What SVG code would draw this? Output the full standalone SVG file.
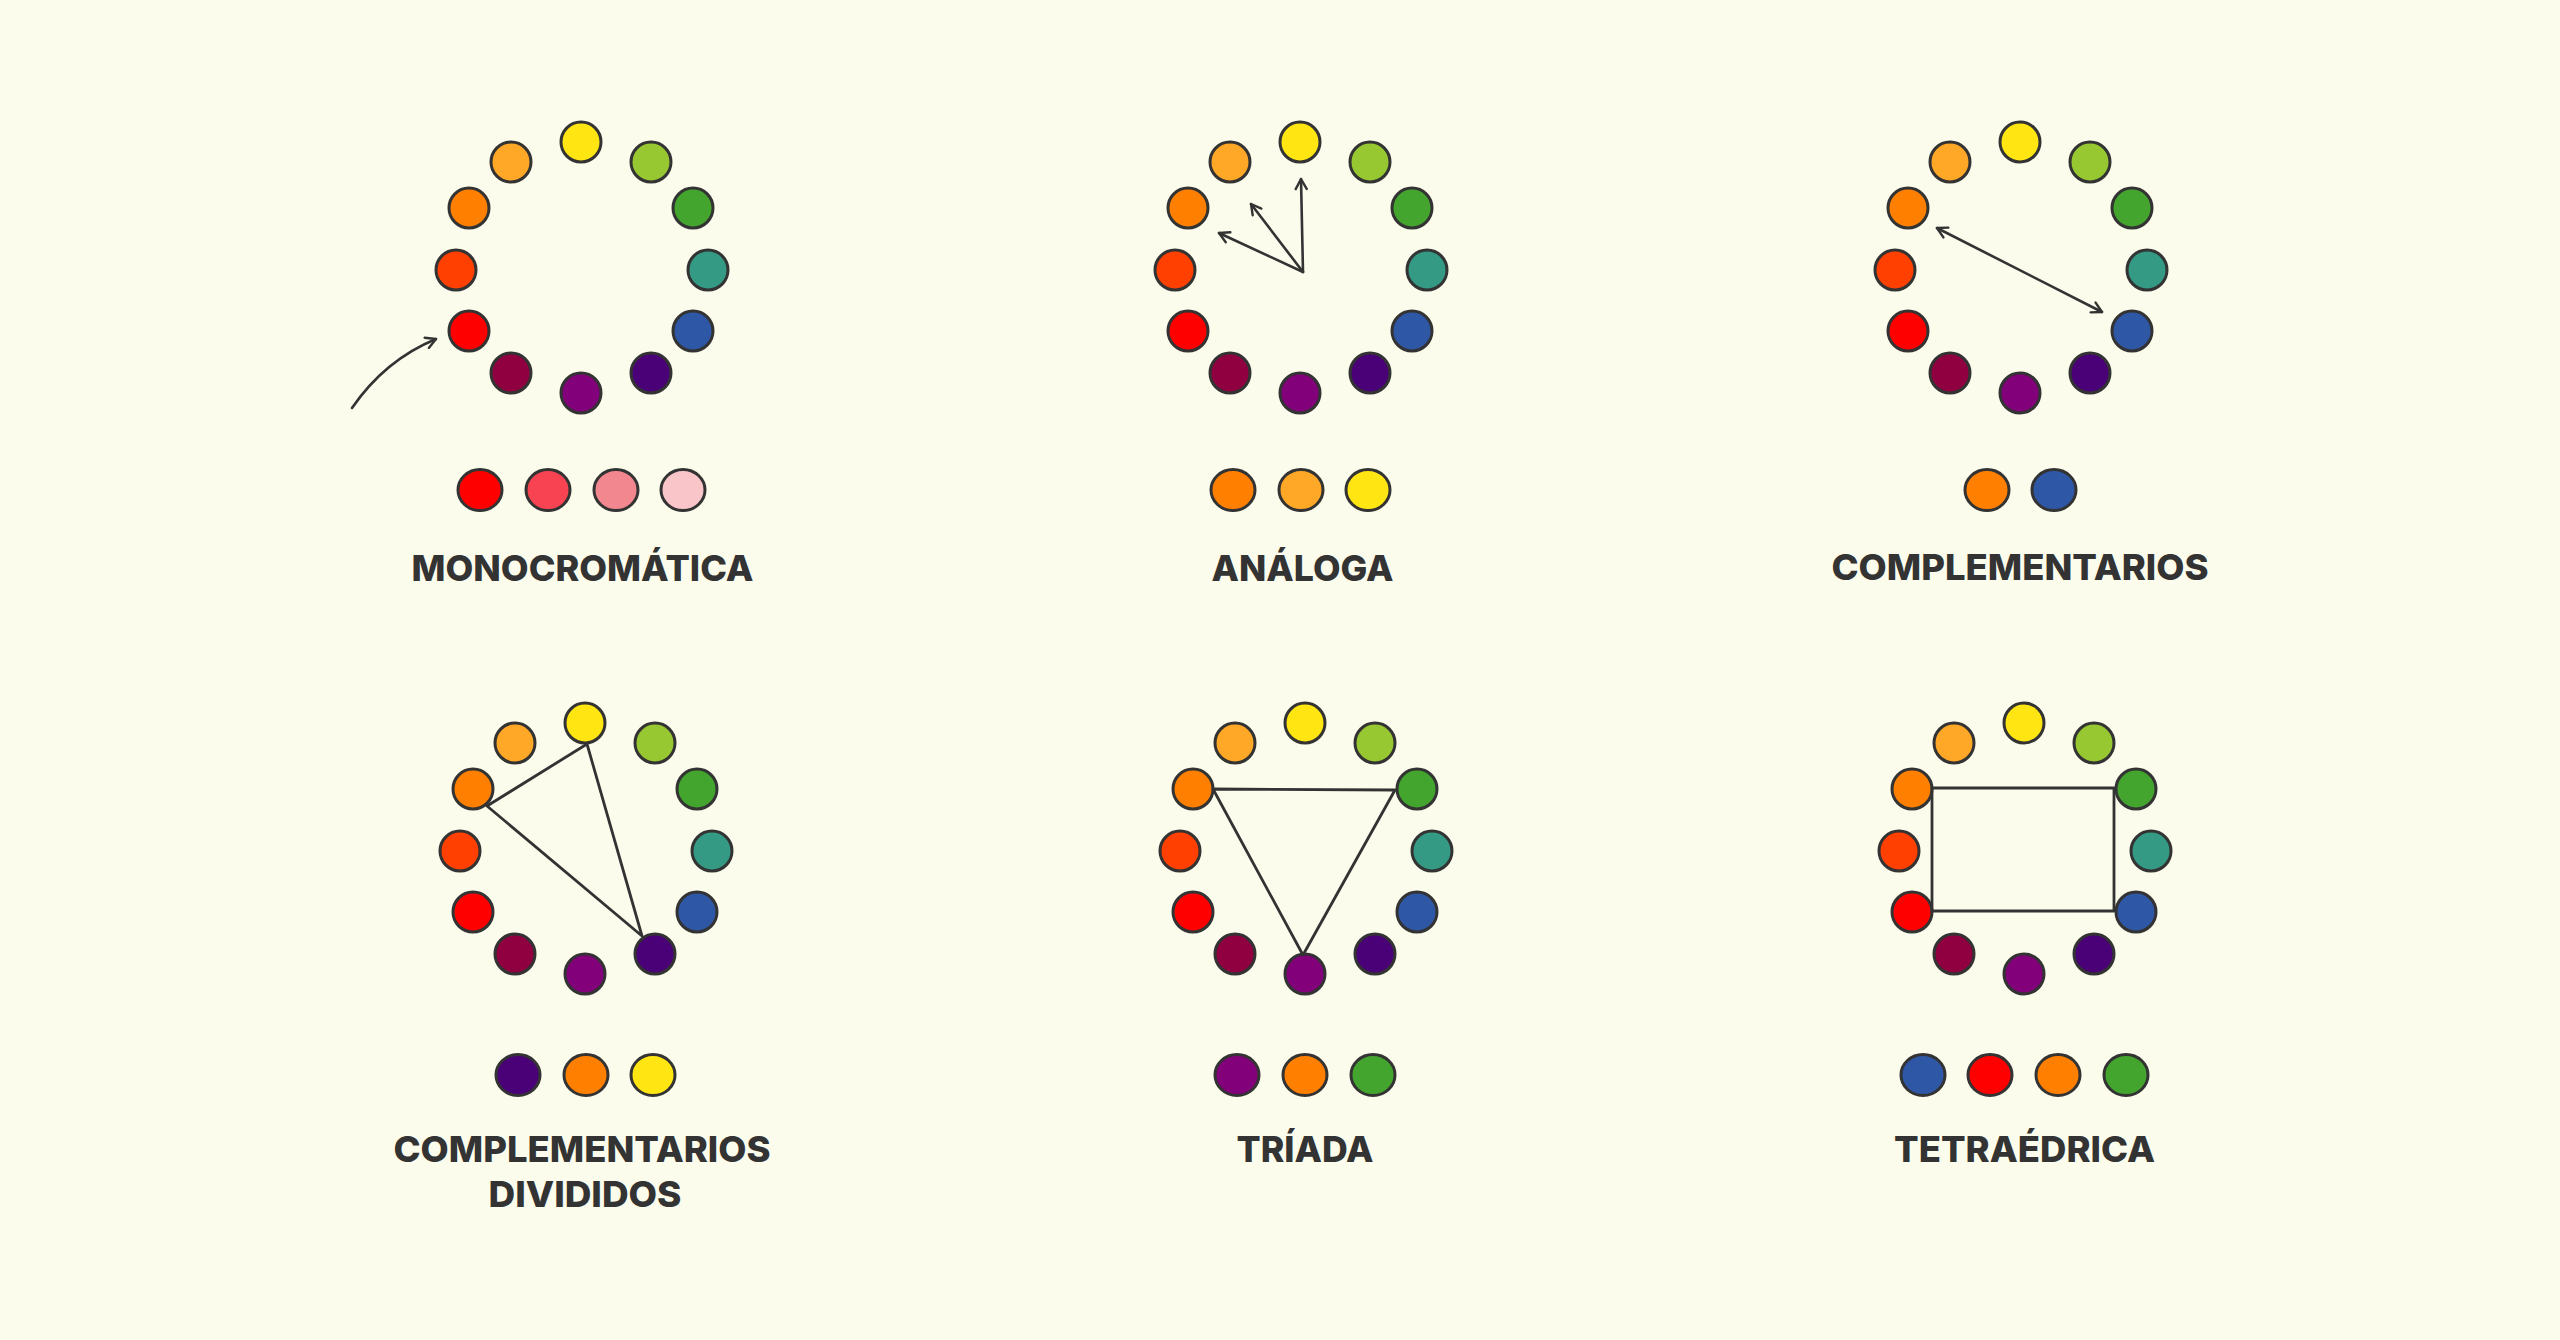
<svg xmlns="http://www.w3.org/2000/svg" xmlns:xlink="http://www.w3.org/1999/xlink" width="2560" height="1340" viewBox="0 0 2560 1340">
<style>
.d{stroke:#333;stroke-width:3}
.sw{stroke:#333;stroke-width:3}
.lbl{font-family:Inter,Lato,"Open Sans","Liberation Sans",sans-serif;font-weight:800;font-size:36px;fill:#333;text-anchor:middle}
.ln{fill:none;stroke:#333;stroke-width:2.8;stroke-linecap:round;stroke-linejoin:round}
.ar{fill:none;stroke:#333;stroke-width:2.6;stroke-linecap:round}
</style>
<defs>
<marker id="ah" viewBox="0 0 14 14" refX="12" refY="7" markerWidth="14" markerHeight="14" markerUnits="userSpaceOnUse" orient="auto-start-reverse">
<path d="M2,1.5 L12,7 L2,12.5" fill="none" stroke="#333" stroke-width="2.4" stroke-linecap="round" stroke-linejoin="round"/>
</marker>
<g id="wheel">
<circle class="d" cx="0" cy="-126" r="20" fill="#FFE512"/>
<circle class="d" cx="70" cy="-106" r="20" fill="#98C831"/>
<circle class="d" cx="112" cy="-60" r="20" fill="#43A52E"/>
<circle class="d" cx="127" cy="2" r="20" fill="#359A84"/>
<circle class="d" cx="112" cy="63" r="20" fill="#2E57A5"/>
<circle class="d" cx="70" cy="105" r="20" fill="#4A0077"/>
<circle class="d" cx="0" cy="125" r="20" fill="#820079"/>
<circle class="d" cx="-70" cy="105" r="20" fill="#900040"/>
<circle class="d" cx="-112" cy="63" r="20" fill="#FF0000"/>
<circle class="d" cx="-125" cy="2" r="20" fill="#FF4000"/>
<circle class="d" cx="-112" cy="-60" r="20" fill="#FF8000"/>
<circle class="d" cx="-70" cy="-106" r="20" fill="#FFA726"/>
</g>
</defs>
<rect width="2560" height="1340" fill="#FBFCEC"/>

<g id="monocromatica">
<use xlink:href="#wheel" href="#wheel" x="581" y="268"/>
<ellipse class="sw" cx="480" cy="490" rx="22" ry="20.5" fill="#FF0000"/>
<ellipse class="sw" cx="548" cy="490" rx="22" ry="20.5" fill="#F84452"/>
<ellipse class="sw" cx="616" cy="490" rx="22" ry="20.5" fill="#F2878F"/>
<ellipse class="sw" cx="683" cy="490" rx="22" ry="20.5" fill="#F9C5C8"/>
<text class="lbl" x="582.5" y="581" textLength="342" lengthAdjust="spacingAndGlyphs">MONOCROMÁTICA</text>
</g>

<g id="analoga">
<use xlink:href="#wheel" href="#wheel" x="1300" y="268"/>
<ellipse class="sw" cx="1233" cy="490" rx="22" ry="20.5" fill="#FF8000"/>
<ellipse class="sw" cx="1301" cy="490" rx="22" ry="20.5" fill="#FFA726"/>
<ellipse class="sw" cx="1368" cy="490" rx="22" ry="20.5" fill="#FFE512"/>
<text class="lbl" x="1302.5" y="581" textLength="182" lengthAdjust="spacingAndGlyphs">ANÁLOGA</text>
</g>

<g id="complementarios">
<use xlink:href="#wheel" href="#wheel" x="2020" y="268"/>
<ellipse class="sw" cx="1987" cy="490" rx="22" ry="20.5" fill="#FF8000"/>
<ellipse class="sw" cx="2054" cy="490" rx="22" ry="20.5" fill="#2E57A5"/>
<text class="lbl" x="2020" y="580" textLength="377" lengthAdjust="spacingAndGlyphs">COMPLEMENTARIOS</text>
</g>

<g id="complementarios-divididos">
<use xlink:href="#wheel" href="#wheel" x="585" y="849"/>
<ellipse class="sw" cx="518" cy="1075" rx="22" ry="20.5" fill="#4A0077"/>
<ellipse class="sw" cx="586" cy="1075" rx="22" ry="20.5" fill="#FF8000"/>
<ellipse class="sw" cx="653" cy="1075" rx="22" ry="20.5" fill="#FFE512"/>
<text class="lbl" x="582" y="1162" textLength="377" lengthAdjust="spacingAndGlyphs">COMPLEMENTARIOS</text>
<text class="lbl" x="585" y="1207" textLength="193" lengthAdjust="spacingAndGlyphs">DIVIDIDOS</text>
</g>

<g id="triada">
<use xlink:href="#wheel" href="#wheel" x="1305" y="849"/>
<ellipse class="sw" cx="1237" cy="1075" rx="22" ry="20.5" fill="#820079"/>
<ellipse class="sw" cx="1305" cy="1075" rx="22" ry="20.5" fill="#FF8000"/>
<ellipse class="sw" cx="1373" cy="1075" rx="22" ry="20.5" fill="#43A52E"/>
<text class="lbl" x="1305" y="1162" textLength="137" lengthAdjust="spacingAndGlyphs">TRÍADA</text>
</g>

<g id="tetraedrica">
<use xlink:href="#wheel" href="#wheel" x="2024" y="849"/>
<ellipse class="sw" cx="1923" cy="1075" rx="22" ry="20.5" fill="#2E57A5"/>
<ellipse class="sw" cx="1990" cy="1075" rx="22" ry="20.5" fill="#FF0000"/>
<ellipse class="sw" cx="2058" cy="1075" rx="22" ry="20.5" fill="#FF8000"/>
<ellipse class="sw" cx="2126" cy="1075" rx="22" ry="20.5" fill="#43A52E"/>
<text class="lbl" x="2024.5" y="1162" textLength="261" lengthAdjust="spacingAndGlyphs">TETRAÉDRICA</text>
</g>

<g id="connectors">
<path class="ar" d="M352,408 Q385,360 436,339" marker-end="url(#ah)"/>
<path class="ar" d="M1303,272 L1301,179" marker-end="url(#ah)"/>
<path class="ar" d="M1303,272 L1251,204" stroke-width="1.8" marker-end="url(#ah)"/>
<path class="ar" d="M1303,272 L1219,233" marker-end="url(#ah)"/>
<path class="ar" d="M1937,228 L2102,312" marker-start="url(#ah)" marker-end="url(#ah)"/>
<path class="ln" d="M587,744 L487,806 L642,936 Z"/>
<path class="ln" d="M1213,789 L1395,790 L1303,955 Z"/>
<rect class="ln" x="1932" y="788" width="182" height="123"/>
</g>
</svg>
